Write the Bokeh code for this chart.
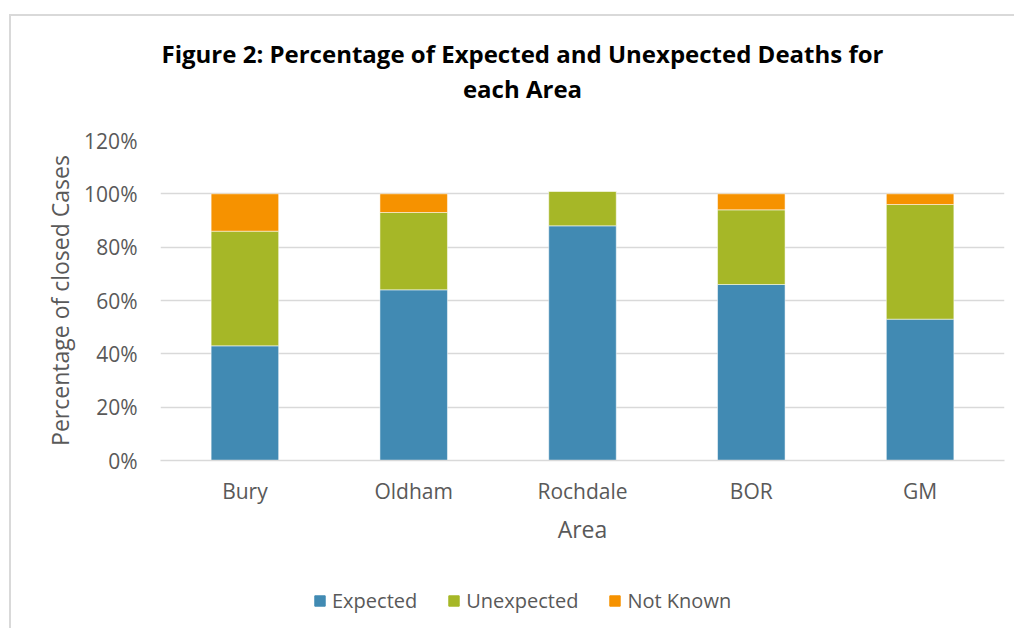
from bokeh.plotting import figure
from bokeh.layouts import column
from bokeh.models import (ColumnDataSource, FactorRange, Range1d, NumeralTickFormatter, Legend,
                          LegendItem, Label, FixedTicker)
from bokeh.embed import file_html
from bokeh.resources import INLINE

areas = ["Bury", "Oldham", "Rochdale", "BOR", "GM"]
expected = [0.43, 0.64, 0.88, 0.66, 0.53]
unexpected = [0.43, 0.29, 0.13, 0.28, 0.43]
not_known = [0.14, 0.07, 0.0, 0.06, 0.04]
series = ["Expected", "Unexpected", "Not Known"]
colors = ["#418AB3", "#A6B727", "#F69200"]
y_ticks = [0, 0.2, 0.4, 0.6, 0.8, 1.0, 1.2]
title_lines = ["Figure 2: Percentage of Expected and Unexpected Deaths for", "each Area"]

FONT = "Open Sans"
GREY = "#595959"
W = 1003
BL, BR = 149, 10
FW = W - BL - BR  # frame width in px

# ---- title strip ----
p0 = figure(width=W, height=109, x_range=Range1d(0, FW), y_range=Range1d(0, 109),
            x_axis_type=None, y_axis_type=None, output_backend="svg", toolbar_location=None,
            min_border_left=BL, min_border_right=BR, min_border_top=0, min_border_bottom=0)
p0.outline_line_color = None
for txt, yy in zip(title_lines, [72, 37]):
    p0.add_layout(Label(x=362, y=yy, text=txt, text_align="center", text_baseline="alphabetic",
                        text_font=FONT, text_font_size="24px", text_font_style="bold",
                        text_color="black"))

# ---- main chart ----
source = ColumnDataSource(dict(area=areas, Expected=expected, Unexpected=unexpected,
                               **{"Not Known": not_known}))

p = figure(width=W, height=435, x_range=FactorRange(*areas), y_range=Range1d(0, 1.2),
           output_backend="svg", toolbar_location=None,
           min_border_left=BL, min_border_right=BR, min_border_top=15, min_border_bottom=100)
p.outline_line_color = None

rs = p.vbar_stack(series, x="area", width=0.4, source=source, color=colors,
                  line_color="white", line_alpha=0.5, line_width=1)

p.xgrid.grid_line_color = None
p.ygrid.grid_line_color = "#d9d9d9"
p.ygrid.grid_line_width = 1.5
p.yaxis.ticker = FixedTicker(ticks=y_ticks)
p.yaxis.formatter = NumeralTickFormatter(format="0%")
p.yaxis.axis_line_color = None
p.yaxis.major_tick_line_color = None
p.yaxis.minor_tick_line_color = None
p.yaxis.major_tick_out = 0
p.yaxis.major_label_standoff = 23
p.yaxis.axis_label = "Percentage of closed Cases"
p.yaxis.axis_label_standoff = 5

p.xaxis.axis_line_color = "#d9d9d9"
p.xaxis.axis_line_width = 1.5
p.xaxis.major_tick_line_color = None
p.xaxis.major_tick_out = 0
p.xaxis.major_label_standoff = 16
p.xaxis.axis_label = "Area"
p.xaxis.axis_label_standoff = 5

for ax in (p.xaxis, p.yaxis):
    ax.major_label_text_font = FONT
    ax.major_label_text_font_size = "21px"
    ax.major_label_text_color = GREY
    ax.axis_label_text_font = FONT
    ax.axis_label_text_font_size = "23px"
    ax.axis_label_text_font_style = "normal"
    ax.axis_label_text_color = GREY

# ---- legend strip ----
p2 = figure(width=W, height=68, x_range=Range1d(0, 1), y_range=Range1d(0, 1),
            x_axis_type=None, y_axis_type=None, output_backend="svg", toolbar_location=None,
            min_border_left=BL, min_border_right=BR, min_border_top=0, min_border_bottom=0)
p2.outline_line_color = None
# swatch renderers for the legend only (placed outside the visible range)
swatches = [p2.vbar(x=[-5], bottom=[-5], top=[-4], width=1, color=c) for c in colors]
legend = Legend(items=[LegendItem(label=s, renderers=[r], index=0) for s, r in zip(series, swatches)],
                orientation="horizontal", location=(153, 14),
                glyph_width=13, glyph_height=13, label_standoff=6, spacing=30,
                padding=0, margin=0, background_fill_alpha=0, border_line_color=None,
                label_text_font=FONT, label_text_font_size="20px", label_text_color=GREY)
p2.add_layout(legend, "center")

layout = column(p0, p, p2, spacing=0)
layout.styles = {"border-left": "2px solid #d9d9d9", "border-top": "2px solid #d9d9d9",
                 "margin-left": "9px", "margin-top": "14px"}

open("out.html", "w").write(file_html(layout, INLINE))
